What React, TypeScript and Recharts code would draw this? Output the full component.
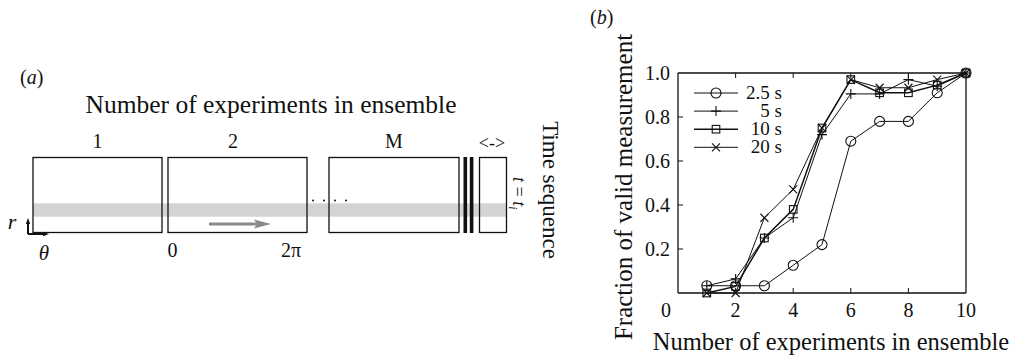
import { LineChart, Line, XAxis, YAxis, Legend } from "recharts";

// fraction of valid measurements vs number of experiments in the ensemble
const experiments = [1, 2, 3, 4, 5, 6, 7, 8, 9, 10];
const valid2p5 = [0.033, 0.033, 0.033, 0.126, 0.22, 0.69, 0.78, 0.78, 0.91, 1.0];
const valid5 = [0.033, 0.064, 0.25, 0.342, 0.72, 0.905, 0.905, 0.97, 0.94, 1.0];
const valid10 = [0.0, 0.03, 0.25, 0.38, 0.75, 0.97, 0.91, 0.91, 0.945, 1.0];
const valid20 = [0.0, 0.0, 0.342, 0.471, 0.75, 0.97, 0.933, 0.933, 0.97, 1.0];
const seriesNames = ["2.5 s", "5 s", "10 s", "20 s"];
const seriesShapes = ["circle", "plus", "square", "cross"];
const xTicks = [0, 2, 4, 6, 8, 10];
const yTicks = [0.2, 0.4, 0.6, 0.8, 1.0];
const ensembleLabels = ["1", "2", "M"];

const data = experiments.map((n, i) => ({
  n,
  s2p5: valid2p5[i],
  s5: valid5[i],
  s10: valid10[i],
  s20: valid20[i],
}));

const FONT = "Liberation Serif, Times New Roman, serif";
const INK = "#111";

function Marker({ shape, x, y }: { shape: string; x?: number; y?: number }) {
  if (x == null || y == null) return null;
  const sw = 1.1;
  if (shape === "circle")
    return <circle cx={x} cy={y} r={5} fill="none" stroke={INK} strokeWidth={sw} />;
  if (shape === "plus")
    return <path d={`M${x - 5},${y}H${x + 5}M${x},${y - 5}V${y + 5}`} stroke={INK} strokeWidth={sw} />;
  if (shape === "square")
    return <rect x={x - 3.8} y={y - 3.8} width={7.6} height={7.6} fill="none" stroke={INK} strokeWidth={sw} />;
  return (
    <path
      d={`M${x - 4},${y - 4}L${x + 4},${y + 4}M${x - 4},${y + 4}L${x + 4},${y - 4}`}
      stroke={INK}
      strokeWidth={sw}
    />
  );
}

const dotFor = (shape: string) => (p: any) =>
  <Marker key={`${shape}-${p.index}`} shape={shape} x={p.cx} y={p.cy} />;

const BottomTick = (p: any) => {
  const v = p.payload.value;
  return (
    <g>
      {v > 0 && v < 10 && <line x1={p.x} x2={p.x} y1={p.y} y2={p.y - 5} stroke={INK} />}
      <text
        x={v === 0 ? p.x - 7 : p.x}
        y={p.y + 24}
        textAnchor={v === 0 ? "end" : "middle"}
        fontFamily={FONT}
        fontSize={20}
        fill={INK}
      >
        {v}
      </text>
    </g>
  );
};

const TopTick = (p: any) => {
  const v = p.payload.value;
  if (v <= 0 || v >= 10) return <g />;
  return <line x1={p.x} x2={p.x} y1={p.y} y2={p.y + 5} stroke={INK} />;
};

const LeftTick = (p: any) => {
  const v = p.payload.value;
  return (
    <g>
      {v < 1 && <line x1={p.x} x2={p.x + 5} y1={p.y} y2={p.y} stroke={INK} />}
      <text x={p.x - 8} y={p.y + 7} textAnchor="end" fontFamily={FONT} fontSize={20} fill={INK}>
        {v.toFixed(1)}
      </text>
    </g>
  );
};

const RightTick = (p: any) => {
  const v = p.payload.value;
  if (v >= 1) return <g />;
  return <line x1={p.x} x2={p.x - 5} y1={p.y} y2={p.y} stroke={INK} />;
};

const renderLegend = (props: any) => (
  <svg width={100} height={76} style={{ display: "block", overflow: "visible" }}>
    {(props.payload || []).map((entry: any) => {
      const i = seriesNames.indexOf(entry.value);
      const y = 10 + i * 18.1;
      return (
        <g key={entry.value}>
          <line x1={4} x2={48} y1={y} y2={y} stroke={INK} strokeWidth={i === 2 ? 1.5 : 1} />
          <Marker shape={seriesShapes[i]} x={26} y={y} />
          <text x={92} y={y + 6} textAnchor="end" fontFamily={FONT} fontSize={19} fill={INK}>
            {entry.value}
          </text>
        </g>
      );
    })}
  </svg>
);

function EnsembleSketch() {
  const boxes = [
    [33, 162],
    [168, 307],
    [329, 459],
  ];
  const labelX = [97.5, 233, 394];
  return (
    <svg
      width={1025}
      height={359}
      style={{ position: "absolute", left: 0, top: 0, pointerEvents: "none" }}
      fontFamily={FONT}
      fill={INK}
    >
      <text x={20} y={84} fontSize={20}>
        (<tspan fontStyle="italic">a</tspan>)
      </text>
      <text x={590} y={24} fontSize={20}>
        (<tspan fontStyle="italic">b</tspan>)
      </text>
      <text x={271} y={113} fontSize={25.5} textAnchor="middle">
        Number of experiments in ensemble
      </text>
      {ensembleLabels.map((l, i) => (
        <text key={l} x={labelX[i]} y={148} fontSize={20} textAnchor="middle">
          {l}
        </text>
      ))}
      <text x={492} y={149} fontSize={18} textAnchor="middle">
        {"<->"}
      </text>

      <rect x={33} y={203.3} width={474} height={13.4} fill="#d3d3d3" />
      {boxes.map(([a, b]) => (
        <rect key={a} x={a} y={157.5} width={b - a} height={75} fill="none" stroke={INK} strokeWidth={1.3} />
      ))}
      <rect x={479.5} y={157.5} width={27} height={75} fill="none" stroke={INK} strokeWidth={1.3} />
      <rect x={463.5} y={157} width={3.6} height={76} fill={INK} />
      <rect x={469.8} y={157} width={3.6} height={76} fill={INK} />
      {[313, 324, 335, 346].map((x) => (
        <circle key={x} cx={x} cy={200.5} r={1} fill={INK} />
      ))}

      <line x1={209} x2={258} y1={224} y2={224} stroke="#8a8a8a" strokeWidth={3} />
      <polygon points="271,224 254,219.5 257,224 254,228.5" fill="#8a8a8a" />

      <line x1={28} x2={28} y1={234} y2={222} stroke={INK} strokeWidth={2} />
      <polygon points="28,218 25.8,224 30.2,224" fill={INK} />
      <line x1={28} x2={45} y1={234} y2={234} stroke={INK} strokeWidth={2} />
      <polygon points="49,234 43,231.8 43,236.2" fill={INK} />
      <text x={12} y={229} fontSize={22} fontStyle="italic" textAnchor="middle">
        r
      </text>
      <text x={44} y={260} fontSize={21} fontStyle="italic" textAnchor="middle">
        θ
      </text>
      <text x={172.5} y={257} fontSize={20} textAnchor="middle">
        0
      </text>
      <text x={291} y={257} fontSize={20} textAnchor="middle">
        2π
      </text>

      <text x={0} y={0} fontSize={18} transform="translate(513,177) rotate(90)">
        <tspan fontStyle="italic">t</tspan> = <tspan fontStyle="italic">t</tspan>
        <tspan fontSize={12} fontStyle="italic" dy={4}>
          i
        </tspan>
      </text>
      <text x={0} y={0} fontSize={23} textAnchor="middle" transform="translate(543,190) rotate(90)">
        Time sequence
      </text>
    </svg>
  );
}

export default function App() {
  return (
    <div style={{ position: "absolute", left: 0, top: 0, width: 1025, height: 359, background: "#fff" }}>
      <LineChart
        width={1025}
        height={359}
        data={data}
        margin={{ top: 72, right: 58, bottom: 6, left: 618 }}
      >
        <XAxis
          dataKey="n"
          type="number"
          domain={[0, 10]}
          ticks={xTicks}
          interval={0}
          height={60}
          tickSize={0}
          tickMargin={0}
          tickLine={false}
          axisLine={{ stroke: INK, strokeWidth: 1.3 }}
          tick={<BottomTick />}
          label={(p: any) => (
            <text
              x={p.viewBox.x + p.viewBox.width / 2 + 9}
              y={p.viewBox.y + 57}
              textAnchor="middle"
              fontFamily={FONT}
              fontSize={24.5}
              fill={INK}
            >
              Number of experiments in ensemble
            </text>
          )}
        />
        <XAxis
          xAxisId="top"
          orientation="top"
          dataKey="n"
          type="number"
          domain={[0, 10]}
          ticks={xTicks}
          interval={0}
          height={1}
          tickSize={0}
          tickMargin={0}
          tickLine={false}
          axisLine={{ stroke: INK, strokeWidth: 1.3 }}
          tick={<TopTick />}
        />
        <YAxis
          type="number"
          domain={[0, 1]}
          ticks={yTicks}
          interval={0}
          width={60}
          tickSize={0}
          tickMargin={0}
          tickLine={false}
          axisLine={{ stroke: INK, strokeWidth: 1.3 }}
          tick={<LeftTick />}
          label={(p: any) => (
            <text
              x={0}
              y={0}
              textAnchor="middle"
              fontFamily={FONT}
              fontSize={25}
              fill={INK}
              transform={`translate(${p.viewBox.x + 14},${p.viewBox.y + p.viewBox.height / 2 + 4}) rotate(-90)`}
            >
              Fraction of valid measurement
            </text>
          )}
        />
        <YAxis
          yAxisId="right"
          orientation="right"
          type="number"
          domain={[0, 1]}
          ticks={yTicks}
          interval={0}
          width={1}
          tickSize={0}
          tickMargin={0}
          tickLine={false}
          axisLine={{ stroke: INK, strokeWidth: 1.3 }}
          tick={<RightTick />}
        />
        <Legend
          content={renderLegend}
          layout="vertical"
          align="center"
          verticalAlign="middle"
          wrapperStyle={{ position: "absolute", left: 690, top: 83, width: 100, height: 76 }}
        />
        <Line dataKey="s2p5" name={seriesNames[0]} stroke={INK} strokeWidth={1} dot={dotFor("circle")} isAnimationActive={false} />
        <Line dataKey="s5" name={seriesNames[1]} stroke={INK} strokeWidth={1} dot={dotFor("plus")} isAnimationActive={false} />
        <Line dataKey="s10" name={seriesNames[2]} stroke={INK} strokeWidth={1.5} dot={dotFor("square")} isAnimationActive={false} />
        <Line dataKey="s20" name={seriesNames[3]} stroke={INK} strokeWidth={1} dot={dotFor("cross")} isAnimationActive={false} />
      </LineChart>
      <EnsembleSketch />
    </div>
  );
}
